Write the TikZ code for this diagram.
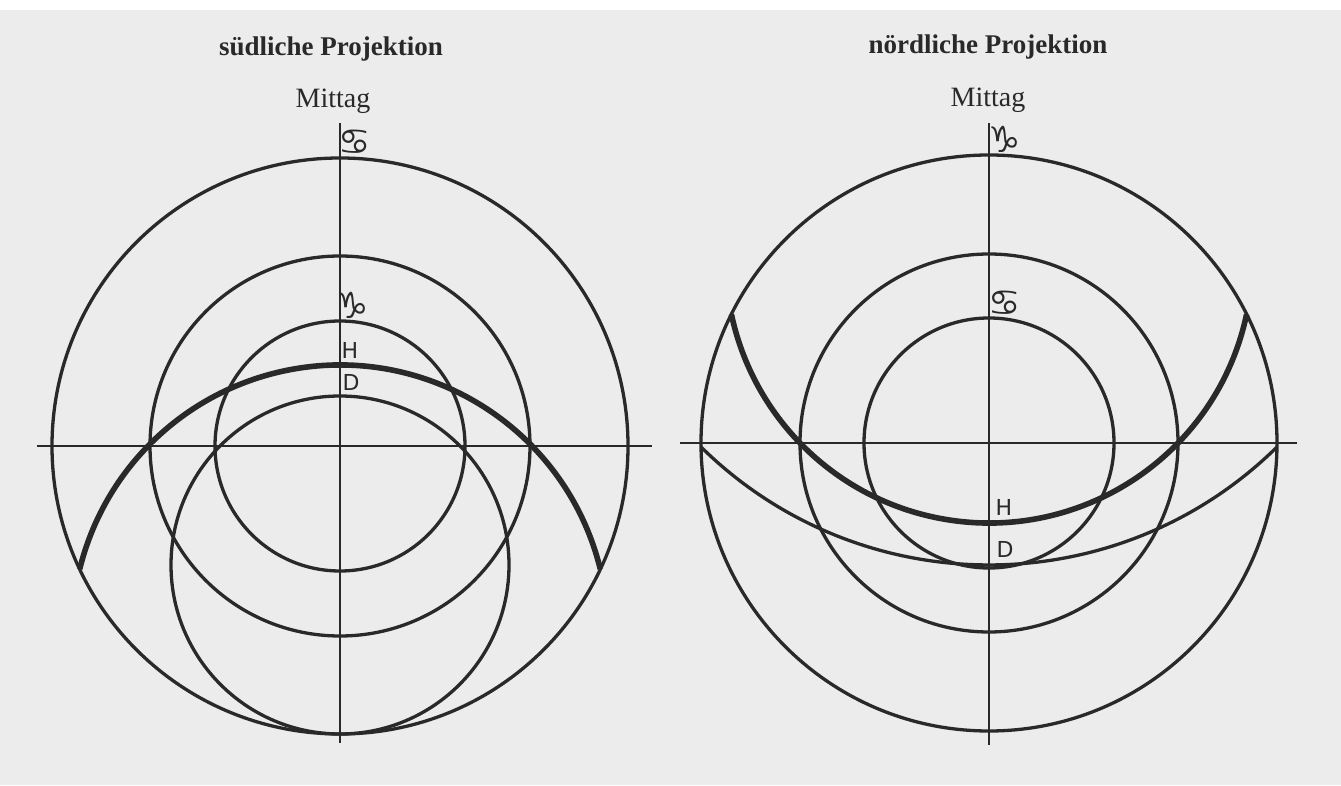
\documentclass[tikz,border=0pt]{standalone}
\usepackage{fontspec}
\setmainfont{Liberation Serif}
\newfontfamily\signfont{DejaVu Sans}
\usetikzlibrary{positioning}
\definecolor{paper}{gray}{0.925}
\definecolor{ink}{gray}{0.16}
\tikzstyle{curve}=[draw=ink,line width=3.3pt]
\tikzstyle{heavy}=[draw=ink,line width=5.6pt]
\tikzstyle{axis}=[draw=ink,line width=2.2pt]
\tikzstyle{heading}=[anchor=base,inner sep=0pt,text=ink,font=\fontsize{27}{30}\selectfont\bfseries]
\tikzstyle{noon}=[anchor=base,inner sep=0pt,text=ink,font=\fontsize{28}{30}\selectfont]
\tikzstyle{sign}=[inner sep=0pt,text=ink,font=\signfont\fontsize{36}{36}\selectfont]
\tikzstyle{letter}=[inner sep=0pt,text=ink,font=\signfont\fontsize{22}{22}\selectfont]

\begin{document}
\begin{tikzpicture}[x=1pt,y=1pt]
\useasboundingbox (0,0) rectangle (1341,785);
\fill[white] (0,0) rectangle (1341,785);
\fill[paper] (0,0) rectangle (1341,775);

% suedliche Projektion
\coordinate (SC) at (340,339);
\draw[axis] (37,339) -- (652,339);
\draw[axis] (340,662) -- (340,42);
\draw[curve] (SC) circle (288);
\draw[curve] (SC) circle (190);
\draw[curve] (SC) circle (125);
\draw[curve] (340,220) circle (169);
\draw[heavy] (340,152) ++(13.8:268) arc (13.8:166.2:268);
\node[heading] (stitle) at (331,729) {südliche Projektion};
\node[noon] (snoon) at (333,677) {Mittag};
\node[sign] (scancer) at (355,643) {♋};
\node[sign] (scapri) at (353,480) {♑};
\node[letter] (sH) at (350,435) {H};
\node[letter] (sD) at (351,403) {D};

% noerdliche Projektion
\coordinate (NC) at (989,342);
\draw[axis] (680,342) -- (1297,342);
\draw[axis] (989,662) -- (989,40);
\draw[curve] (NC) circle (288);
\draw[curve] (NC) circle (189);
\draw[curve] (NC) circle (125);
\draw[curve] (989,630.5) ++(-45.5:410.5) arc (-45.5:-134.5:410.5);
\draw[heavy] (989,525.3) ++(-12:263.3) arc (-12:-168:263.3);
\node[heading] (ntitle) at (988,731) {nördliche Projektion};
\node[noon] (nnoon) at (988,678) {Mittag};
\node[sign] (ncapri) at (1005,646) {♑};
\node[sign] (ncancer) at (1005,482) {♋};
\node[letter] (nH) at (1004,278) {H};
\node[letter] (nD) at (1005,236) {D};
\end{tikzpicture}
\end{document}
